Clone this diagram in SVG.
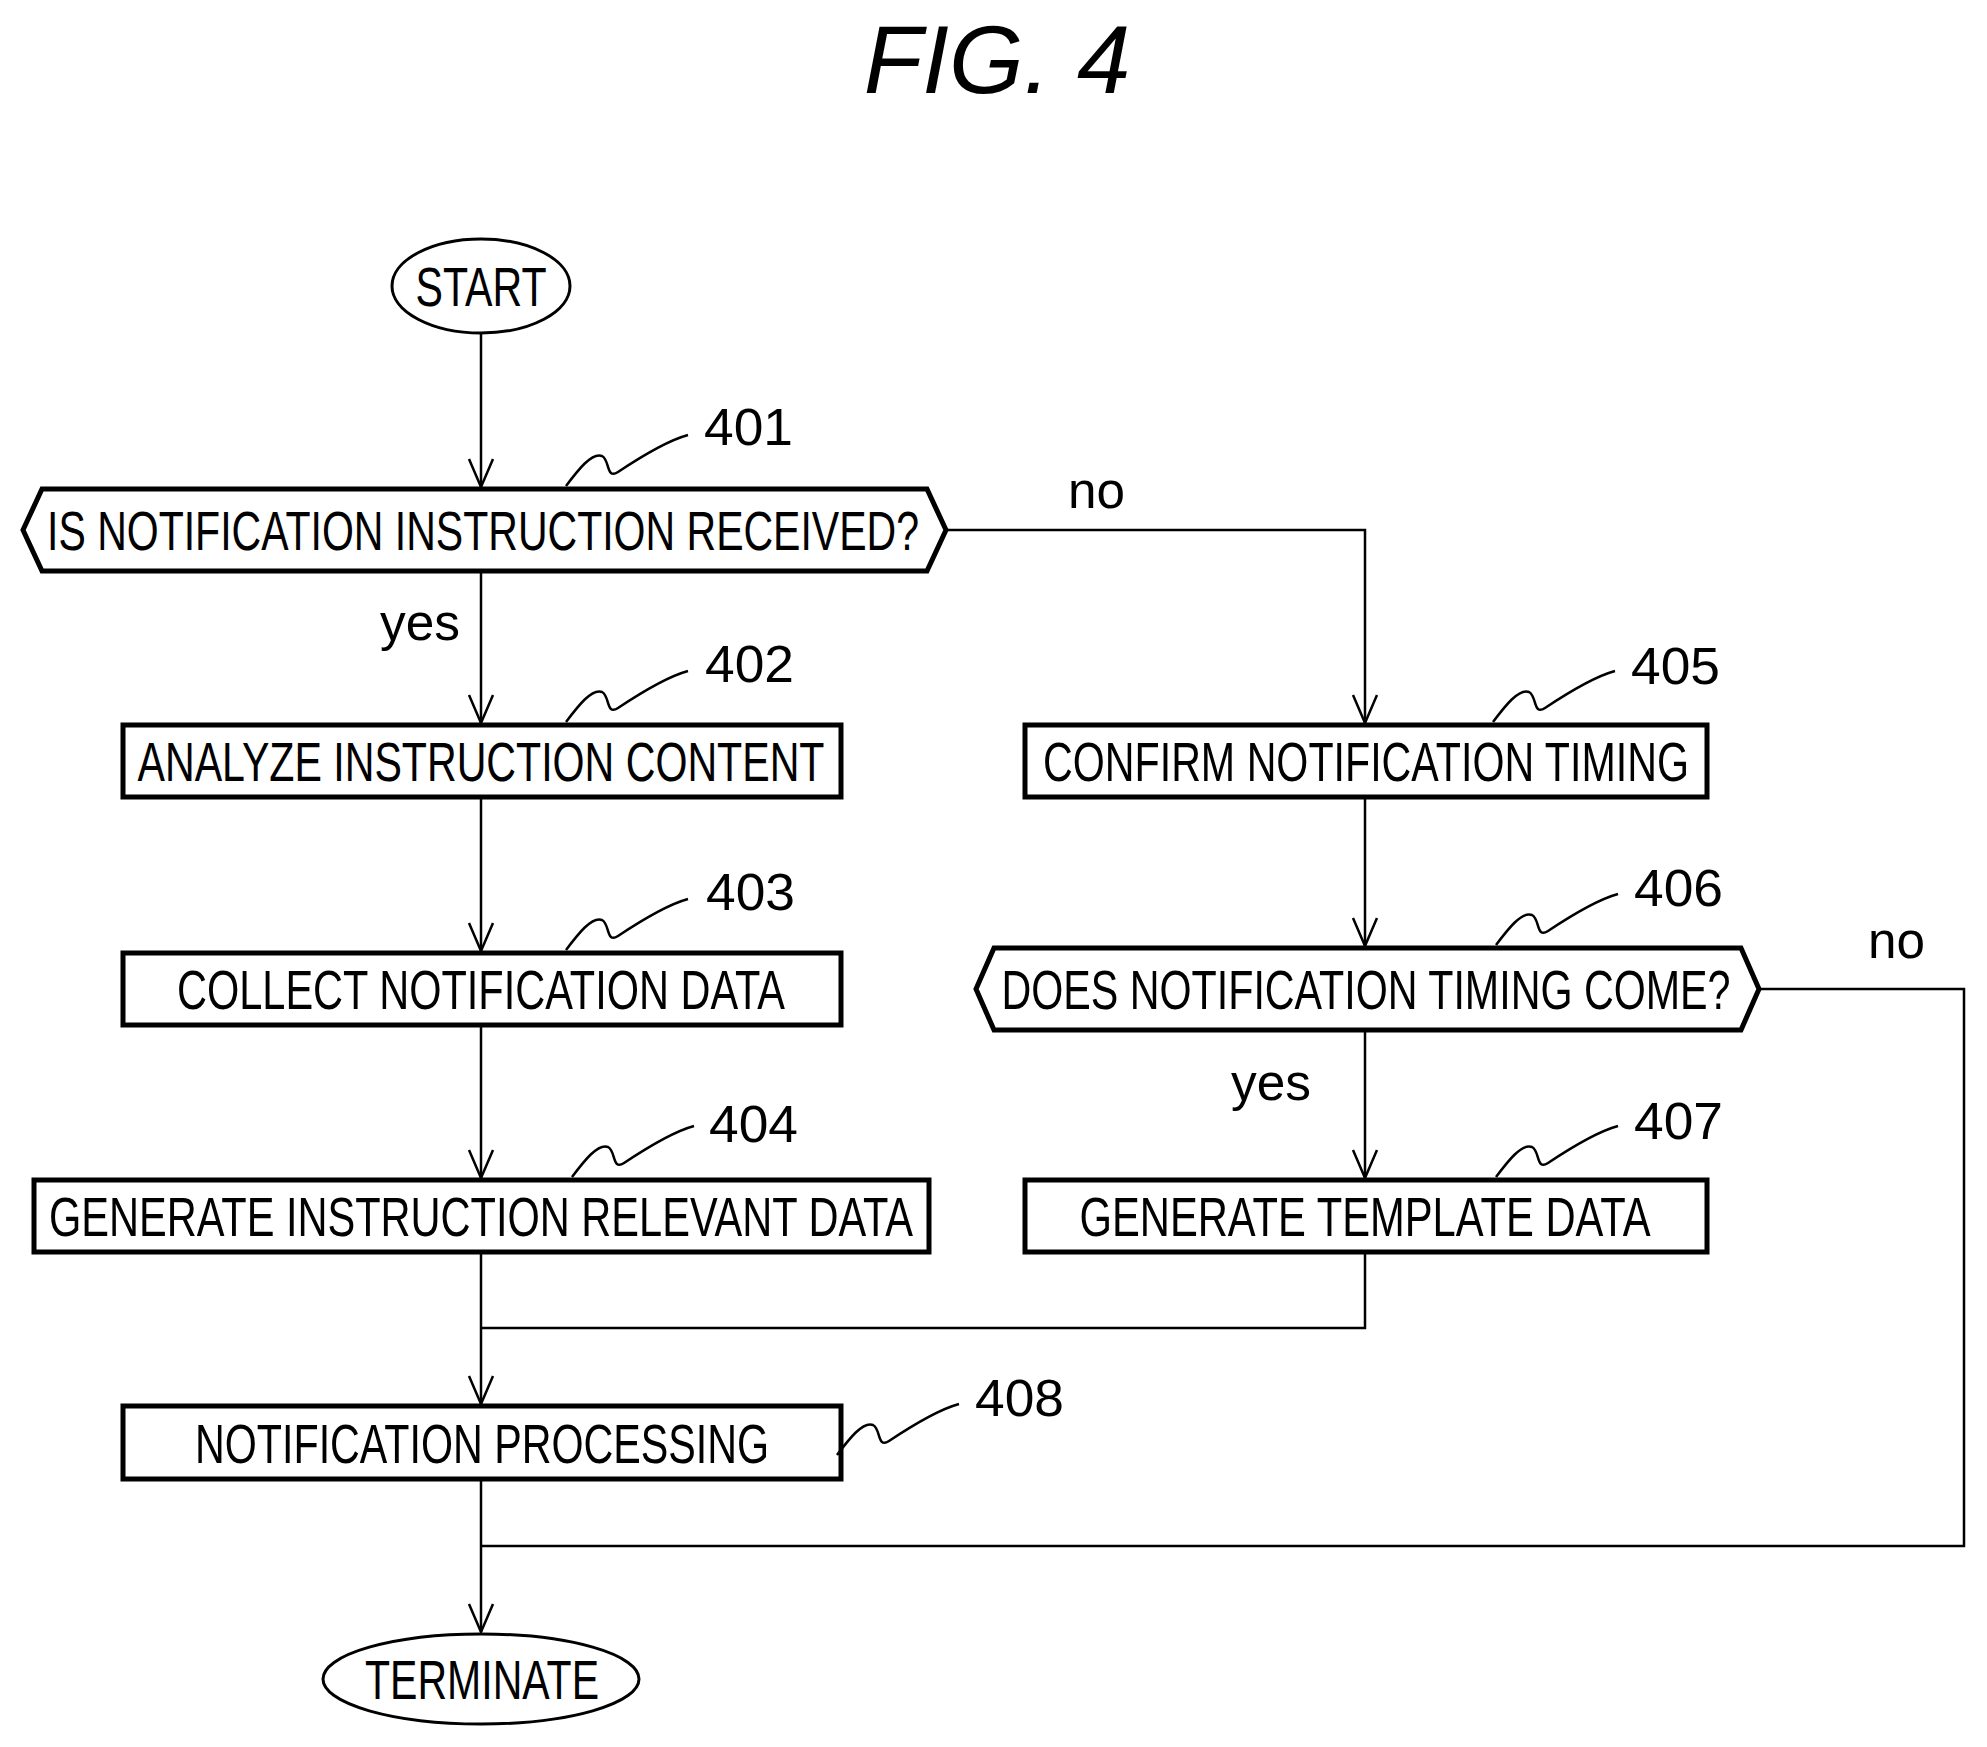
<svg xmlns="http://www.w3.org/2000/svg" width="1987" height="1747" viewBox="0 0 1987 1747">
<style>
.s{fill:#fff;stroke:#000;stroke-width:5}
.e{fill:#fff;stroke:#000;stroke-width:3}
.c{fill:none;stroke:#000;stroke-width:2.5}
.t{font-family:"Liberation Sans",Arial,sans-serif;font-size:56px;fill:#000;text-anchor:middle}
.n{font-family:"Liberation Sans",Arial,sans-serif;font-size:52px;fill:#000}
</style>
<defs>
<marker id="a" markerUnits="userSpaceOnUse" markerWidth="32" markerHeight="30" refX="30" refY="14" orient="auto" viewBox="0 0 32 28">
<path d="M2,2 L30,14 L2,26" fill="none" stroke="#000" stroke-width="2.5"/>
</marker>
<path id="sq" d="M0,0 C12,-16 26,-34 36,-30 C44,-26 40,-6 52,-14 C70,-26 100,-45 122,-51" fill="none" stroke="#000" stroke-width="2.5"/>
</defs>
<text x="997" y="93" font-family="Liberation Sans,Arial,sans-serif" font-style="italic" font-size="96" text-anchor="middle">FIG. 4</text>
<g id="connectors">
<path class="c" d="M481,333 V487" marker-end="url(#a)"/>
<path class="c" d="M481,571 V723" marker-end="url(#a)"/>
<path class="c" d="M946,530 H1365 V723" marker-end="url(#a)"/>
<path class="c" d="M481,797 V951" marker-end="url(#a)"/>
<path class="c" d="M481,1025 V1178" marker-end="url(#a)"/>
<path class="c" d="M1365,797 V946" marker-end="url(#a)"/>
<path class="c" d="M1365,1030 V1178" marker-end="url(#a)"/>
<path class="c" d="M481,1252 V1404" marker-end="url(#a)"/>
<path class="c" d="M1365,1252 V1328 H481"/>
<path class="c" d="M481,1479 V1632" marker-end="url(#a)"/>
<path class="c" d="M1759,989 H1964 V1546 H481"/>
<text class="n" x="1068" y="508" textLength="57" lengthAdjust="spacingAndGlyphs">no</text>
<text class="n" x="380" y="640" textLength="80" lengthAdjust="spacingAndGlyphs">yes</text>
<text class="n" x="1868" y="958" textLength="57" lengthAdjust="spacingAndGlyphs">no</text>
<text class="n" x="1231" y="1100" textLength="80" lengthAdjust="spacingAndGlyphs">yes</text>
</g>
<g id="start"><ellipse class="e" cx="481" cy="286" rx="89" ry="47"/><text class="t" x="481" y="306" textLength="131" lengthAdjust="spacingAndGlyphs">START</text></g>
<g id="n401"><polygon class="s" points="23,530 42,489 927,489 946,530 927,571 42,571"/><text class="t" x="483" y="550" textLength="872" lengthAdjust="spacingAndGlyphs">IS NOTIFICATION INSTRUCTION RECEIVED?</text>
<use href="#sq" x="566" y="486"/><text class="n" x="704" y="445" textLength="89" lengthAdjust="spacingAndGlyphs">401</text></g>
<g id="n402"><rect class="s" x="123" y="725" width="718" height="72"/><text class="t" x="481" y="781" textLength="687" lengthAdjust="spacingAndGlyphs">ANALYZE INSTRUCTION CONTENT</text>
<use href="#sq" x="566" y="722"/><text class="n" x="705" y="682" textLength="89" lengthAdjust="spacingAndGlyphs">402</text></g>
<g id="n403"><rect class="s" x="123" y="953" width="718" height="72"/><text class="t" x="481" y="1009" textLength="608" lengthAdjust="spacingAndGlyphs">COLLECT NOTIFICATION DATA</text>
<use href="#sq" x="566" y="950"/><text class="n" x="706" y="910" textLength="89" lengthAdjust="spacingAndGlyphs">403</text></g>
<g id="n404"><rect class="s" x="34" y="1180" width="895" height="72"/><text class="t" x="481" y="1236" textLength="864" lengthAdjust="spacingAndGlyphs">GENERATE INSTRUCTION RELEVANT DATA</text>
<use href="#sq" x="572" y="1177"/><text class="n" x="709" y="1142" textLength="89" lengthAdjust="spacingAndGlyphs">404</text></g>
<g id="n405"><rect class="s" x="1025" y="725" width="682" height="72"/><text class="t" x="1366" y="781" textLength="646" lengthAdjust="spacingAndGlyphs">CONFIRM NOTIFICATION TIMING</text>
<use href="#sq" x="1493" y="722"/><text class="n" x="1631" y="684" textLength="89" lengthAdjust="spacingAndGlyphs">405</text></g>
<g id="n406"><polygon class="s" points="976,989 994,948 1741,948 1759,989 1741,1030 994,1030"/><text class="t" x="1366" y="1009" textLength="729" lengthAdjust="spacingAndGlyphs">DOES NOTIFICATION TIMING COME?</text>
<use href="#sq" x="1496" y="945"/><text class="n" x="1634" y="906" textLength="89" lengthAdjust="spacingAndGlyphs">406</text></g>
<g id="n407"><rect class="s" x="1025" y="1180" width="682" height="72"/><text class="t" x="1365" y="1236" textLength="571" lengthAdjust="spacingAndGlyphs">GENERATE TEMPLATE DATA</text>
<use href="#sq" x="1496" y="1177"/><text class="n" x="1634" y="1139" textLength="89" lengthAdjust="spacingAndGlyphs">407</text></g>
<g id="n408"><rect class="s" x="123" y="1406" width="718" height="73"/><text class="t" x="482" y="1463" textLength="574" lengthAdjust="spacingAndGlyphs">NOTIFICATION PROCESSING</text>
<use href="#sq" x="837" y="1455"/><text class="n" x="975" y="1416" textLength="89" lengthAdjust="spacingAndGlyphs">408</text></g>
<g id="terminate"><ellipse class="e" cx="481" cy="1679" rx="158" ry="45"/><text class="t" x="482" y="1699" textLength="234" lengthAdjust="spacingAndGlyphs">TERMINATE</text></g>
</svg>
